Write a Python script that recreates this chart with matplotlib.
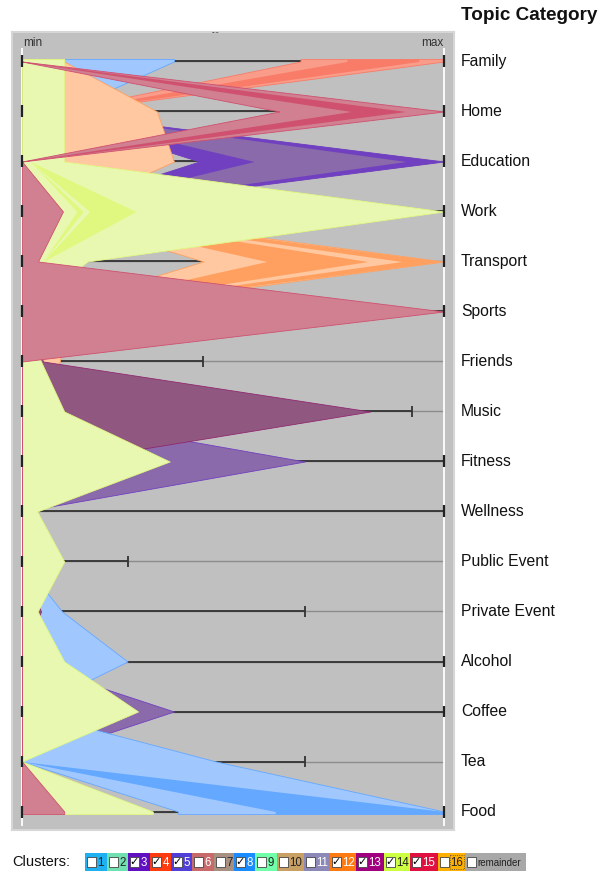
import numpy as np
import matplotlib
matplotlib.use("Agg")
import matplotlib.pyplot as plt
from matplotlib.patches import Rectangle

plt.rcParams['font.family'] = ['Liberation Sans', 'DejaVu Sans']

topics = ["Family", "Home", "Education", "Work", "Transport", "Sports", "Friends",
          "Music", "Fitness", "Wellness", "Public Event", "Private Event",
          "Alcohol", "Coffee", "Tea", "Food"]

# end of the black range line for each topic (0 = min, 1 = max)
range_end = [0.66, 0.61, 0.42, 1.0, 0.43, 1.0, 0.43, 0.925, 1.0, 1.0, 0.25, 0.67,
             1.0, 1.0, 0.67, 0.37]
range_tick = [0, 1, 1, 1, 0, 1, 1, 1, 1, 1, 1, 1, 1, 1, 1, 0]

# cluster profiles, lo/hi per topic (outer band light, inner bands dark)
c8_lo = [0, 0, 0, 0, 0, 0, 0, 0, 0, 0, 0, 0, 0, 0, 0, 0.37]
c8_hi = [0.36, 0.095, 0, 0, 0, 0, 0, 0, 0, 0, 0, 0.095, 0.25, 0.01, 0.46, 1.0]
c8_in_lo = [0, 0, 0, 0, 0, 0, 0, 0, 0, 0, 0, 0, 0, 0, 0, 0.6]
c8_in_hi = [0, 0, 0, 0, 0, 0, 0, 0, 0, 0, 0, 0, 0, 0, 0, 1.0]

c4_lo = [0.66, 0.08, 0, 0, 0, 0, 0, 0, 0, 0, 0, 0, 0, 0, 0, 0]
c4_hi = [1.0, 0.10, 0, 0, 0, 0, 0, 0, 0, 0, 0, 0, 0, 0, 0, 0]
c4_in_lo = [0.77, 0.09, 0, 0, 0, 0, 0, 0, 0, 0, 0, 0, 0, 0, 0, 0]
c4_in_hi = [0.94, 0.095, 0, 0, 0, 0, 0, 0, 0, 0, 0, 0, 0, 0, 0, 0]

c5_lo = [0, 0.05, 0.42, 0.05, 0, 0, 0, 0, 0, 0, 0, 0, 0, 0, 0, 0]
c5_hi = [0, 0.05, 1.0, 0.07, 0, 0, 0, 0, 0.67, 0, 0, 0, 0, 0.36, 0, 0]
c5_in1_lo = [0, 0.05, 0.42, 0.05, 0, 0, 0, 0, 0, 0, 0, 0, 0, 0, 0, 0]
c5_in1_hi = [0, 0.05, 0.55, 0.06, 0, 0, 0, 0, 0, 0, 0, 0, 0, 0, 0, 0]
c5_in2_lo = [0, 0.05, 0.91, 0.06, 0, 0, 0, 0, 0, 0, 0, 0, 0, 0, 0, 0]
c5_in2_hi = [0, 0.05, 1.0, 0.07, 0, 0, 0, 0, 0, 0, 0, 0, 0, 0, 0, 0]

c12_lo = [0, 0, 0, 0.04, 0.43, 0.04, 0, 0, 0, 0, 0, 0, 0, 0, 0, 0]
c12_hi = [0.10, 0.32, 0.36, 0.10, 1.0, 0.10, 0.09, 0, 0, 0, 0, 0, 0, 0, 0, 0]
c12_in1_lo = [0, 0, 0, 0.05, 0.58, 0.05, 0, 0, 0, 0, 0, 0, 0, 0, 0, 0]
c12_in1_hi = [0, 0, 0, 0.06, 0.82, 0.06, 0, 0, 0, 0, 0, 0, 0, 0, 0, 0]
c12_in2_lo = [0, 0, 0, 0.06, 0.90, 0.06, 0, 0, 0, 0, 0, 0, 0, 0, 0, 0]
c12_in2_hi = [0, 0, 0, 0.07, 1.0, 0.07, 0, 0, 0, 0, 0, 0, 0, 0, 0, 0]

c13_lo = [0] * 16
c13_hi = [0, 0, 0, 0, 0, 0, 0.05, 0.825, 0.10, 0, 0, 0.045, 0, 0, 0, 0]

c14_lo = [0] * 16
c14_hi = [0.10, 0.10, 0.10, 1.0, 0.155, 0, 0.045, 0.10, 0.35, 0.036, 0.10, 0.037,
          0.10, 0.275, 0, 0.31]
c14_in1_lo = [0, 0, 0.02, 0.16, 0.05, 0, 0, 0, 0, 0, 0, 0, 0, 0, 0, 0]
c14_in1_hi = [0, 0, 0.02, 0.27, 0.05, 0, 0, 0, 0, 0, 0, 0, 0, 0, 0, 0]
c14_in2_lo = [0, 0, 0.02, 0.13, 0.05, 0, 0, 0, 0, 0, 0, 0, 0, 0, 0, 0]
c14_in2_hi = [0, 0, 0.02, 0.145, 0.05, 0, 0, 0, 0, 0, 0, 0, 0, 0, 0, 0]

c15_lo = [0, 0.61, 0, 0, 0, 0, 0, 0, 0, 0, 0, 0, 0, 0, 0, 0]
c15_hi = [0, 1.0, 0, 0.097, 0.038, 1.0, 0, 0, 0, 0, 0, 0, 0, 0, 0, 0.10]
c15_in_lo = [0, 0.78, 0, 0, 0, 0, 0, 0, 0, 0, 0, 0, 0, 0, 0, 0]
c15_in_hi = [0, 0.91, 0, 0, 0, 0, 0, 0, 0, 0, 0, 0, 0, 0, 0, 0]

# drawing order, bottom to top: (light colour, dark colour, bands)
clusters = [
    ("#fa9c8a", "#f87c68", [(c4_lo, c4_hi), (c4_in_lo, c4_in_hi)]),
    ("#8a6aaa", "#7040c0", [(c5_lo, c5_hi), (c5_in1_lo, c5_in1_hi), (c5_in2_lo, c5_in2_hi)]),
    ("#a0c8ff", "#64a8ff", [(c8_lo, c8_hi), (c8_in_lo, c8_in_hi)]),
    ("#ffc8a0", "#ffa060", [(c12_lo, c12_hi), (c12_in1_lo, c12_in1_hi), (c12_in2_lo, c12_in2_hi)]),
    ("#905880", "#902870", [(c13_lo, c13_hi)]),
    ("#e8f8b0", "#e0f880", [(c14_lo, c14_hi), (c14_in1_lo, c14_in1_hi), (c14_in2_lo, c14_in2_hi)]),
    ("#d08090", "#d05070", [(c15_lo, c15_hi), (c15_in_lo, c15_in_hi)]),
]

# legend of the cluster selector
legend_labels = ["1", "2", "3", "4", "5", "6", "7", "8", "9", "10", "11", "12", "13",
                 "14", "15", "16", "remainder"]
legend_colors = ["#1eb0f0", "#70e0b0", "#6010c0", "#ff3c10", "#5040d8", "#c86a6a",
                 "#a89080", "#1a8cff", "#70ffa8", "#c8a064", "#8c88b8", "#ff7a10",
                 "#a00080", "#ccff40", "#e01040", "#ffb000", "#a8a8a8"]
legend_checked = [0, 0, 1, 1, 1, 0, 0, 1, 0, 0, 0, 1, 1, 1, 1, 0, 0]
legend_white_text = [0, 0, 1, 1, 1, 1, 0, 1, 0, 0, 1, 1, 1, 0, 1, 0, 0]

W, H = 609, 872
fig = plt.figure(figsize=(W / 100, H / 100), dpi=100)
fig.patch.set_facecolor("white")

# main panel: x in [min, max] -> pixels 22..444, topics every 50 px from y=61
px0, px1, py_top, py_bot = 12, 454, 32, 830
ax = fig.add_axes([px0 / W, 1 - py_bot / H, (px1 - px0) / W, (py_bot - py_top) / H])
ax.set_facecolor("#c0c0c0")
ax.set_xlim((px0 - 22) / 422, (px1 - 22) / 422)
ax.set_ylim((py_bot - 61.5) / 50, (py_top - 61.5) / 50)
ax.set_xticks([])
ax.set_yticks([])
for s in ax.spines.values():
    s.set_color("#d6d6d6")
    s.set_linewidth(1.5)

y = np.arange(len(topics))
# profiles get a short flat cap above the first and below the last topic
yy = np.concatenate([[-0.05], y, [len(topics) - 1 + 0.05]])

# range lines
ends = np.array(range_end)
ticks = np.array(range_tick, dtype=bool)
ax.hlines(y, 0, 1, color="#8c8c8c", lw=1.0, zorder=1)
ax.hlines(y, 0, ends, color="#333333", lw=1.3, zorder=2)
ax.vlines(ends[ticks], y[ticks] - 0.11, y[ticks] + 0.11, color="#333333", lw=1.3, zorder=2)
ax.vlines([0, 1], -0.26, 15.28, color="white", lw=1.3, zorder=1.5)

z = 3
for light, dark, bands in clusters:
    for k, (lo, hi) in enumerate(bands):
        lo_e = np.concatenate([[lo[0]], lo, [lo[-1]]])
        hi_e = np.concatenate([[hi[0]], hi, [hi[-1]]])
        ax.fill_betweenx(yy, lo_e, hi_e, facecolor=light if k == 0 else dark,
                         edgecolor=dark, lw=0.6 if k == 0 else 0, zorder=z)
        z += 1

# axis ticks on top
ax.vlines(np.zeros(len(y)), y - 0.12, y + 0.12, color="#222222", lw=1.6, zorder=50)
top = np.max([np.max([hi for _, hi in b], axis=0) for _, _, b in clusters], axis=0)
at_max = y[(top >= 0.999) | (ends >= 0.999)]
ax.vlines(np.ones(len(at_max)), at_max - 0.12, at_max + 0.12, color="#222222", lw=1.6, zorder=50)

ax.text(0.002, -0.36, "min", ha="left", va="center", fontsize=8.5, color="#333333")
ax.text(0.998, -0.36, "max", ha="right", va="center", fontsize=8.5, color="#333333")
ax.text(0.455, (30 - 61.5) / 50, "τ₀", ha="center", va="center", fontsize=8,
        color="#444444", family=["DejaVu Sans"], clip_on=True)

xl = (461 - 22) / 422
for i, t in enumerate(topics):
    ax.text(xl, i, t, ha="left", va="center", fontsize=11.3, color="#111111", clip_on=False)
ax.text(xl, (16 - 61.5) / 50, "Topic Category", ha="left", va="center", fontsize=13.6,
        fontweight="bold", color="#111111", clip_on=False)

# cluster legend strip
lax = fig.add_axes([0, 0, 1, 40 / H])
lax.set_xlim(0, W)
lax.set_ylim(40, 0)
lax.axis("off")
lax.text(12, 30, "Clusters:", ha="left", va="center", fontsize=10.5, color="#111111")
box_w = [22, 21, 22, 21, 21, 22, 20, 21, 22, 27, 26, 26, 28, 26, 28, 27, 61]
x = 85
for lab, col, chk, wt, bw in zip(legend_labels, legend_colors, legend_checked,
                                  legend_white_text, box_w):
    lax.add_patch(Rectangle((x, 21), bw, 18, facecolor=col, edgecolor="none"))
    lax.add_patch(Rectangle((x + 2, 25), 9, 10, facecolor="white", edgecolor="#444444", lw=0.6))
    if chk:
        lax.text(x + 6.5, 30, "✓", ha="center", va="center", fontsize=8,
                 color="black", family=["DejaVu Sans"])
    lax.text(x + 12.5, 30.5, lab, ha="left", va="center",
             fontsize=8.3 if lab != "remainder" else 7,
             color="white" if wt else "#222222")
    if lab == "16":
        lax.add_patch(Rectangle((x + 11.5, 23), bw - 13, 14, facecolor="none",
                                edgecolor="#444444", lw=0.6, ls=":"))
    x += bw

fig.savefig("out.png", dpi=100)
